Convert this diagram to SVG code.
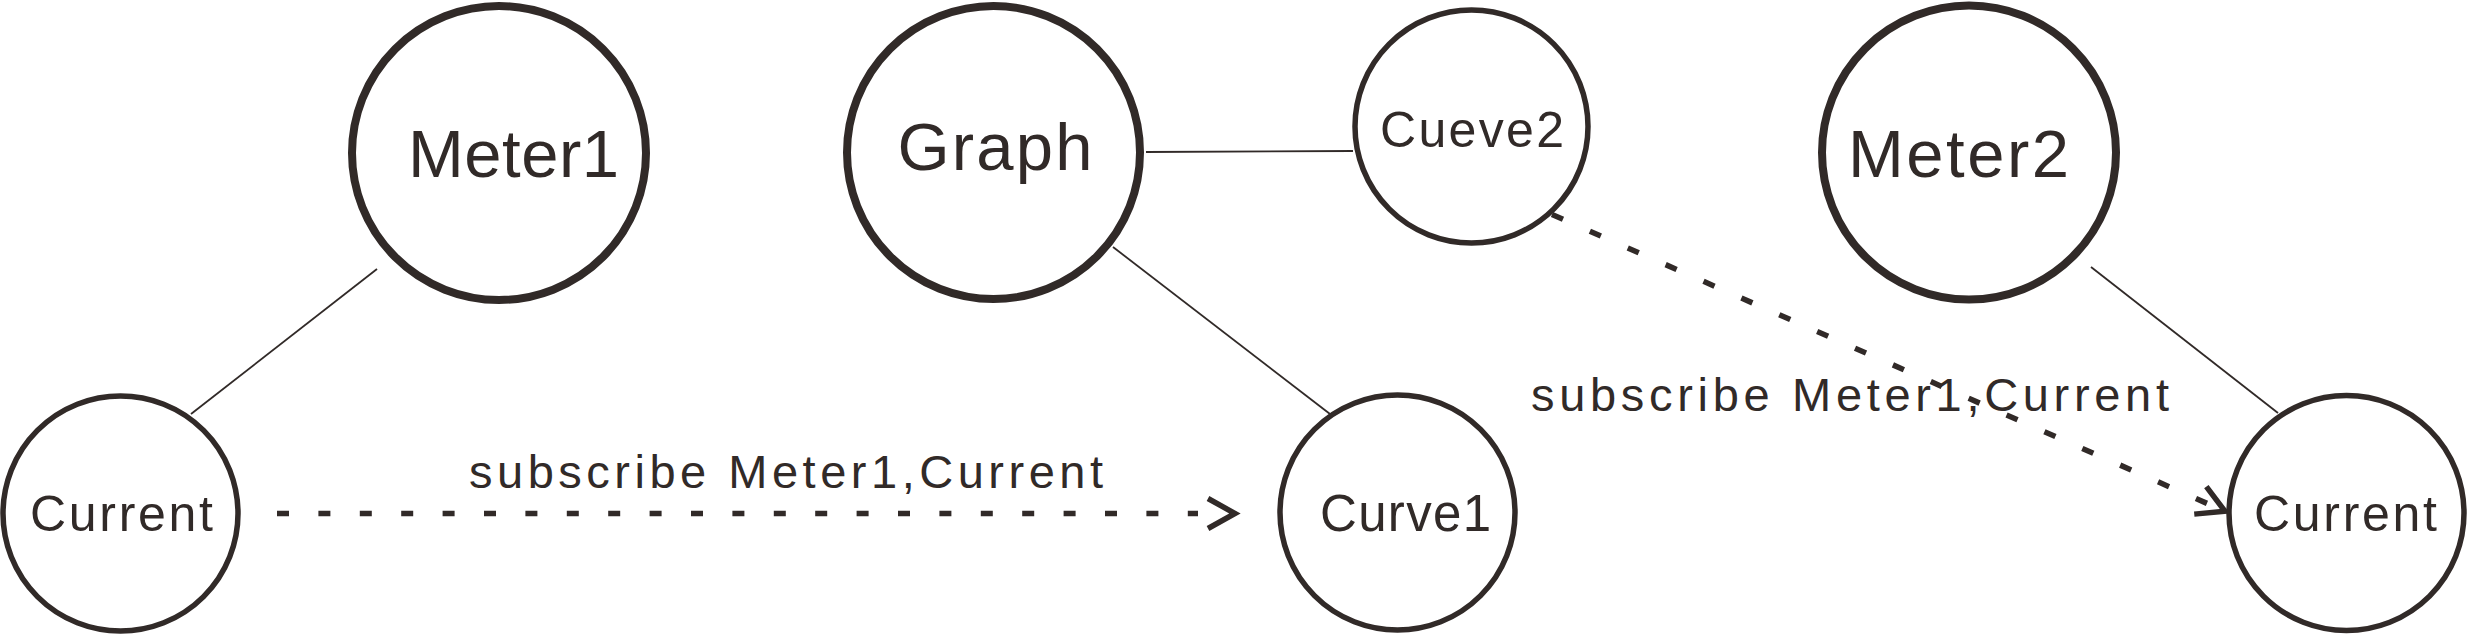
<svg xmlns="http://www.w3.org/2000/svg" xmlns:xlink="http://www.w3.org/1999/xlink" width="2467" height="635" viewBox="0 0 2467 635">
<style>
.big{fill:none;stroke:#312a28;stroke-width:8}
.small{fill:none;stroke:#312a28;stroke-width:5.5}
.lbl{font-family:"Liberation Sans Narrow","Liberation Sans",Arial,sans-serif;fill:#312a28;text-anchor:middle}
.edge{stroke:#312a28;stroke-width:1.8;fill:none}
.dash{stroke:#312a28;stroke-width:5.5;fill:none;stroke-dasharray:12 29.4}
.head{stroke:#312a28;stroke-width:5.5;fill:none;stroke-linejoin:miter}
</style>
<defs>
<path id="chev" d="M-27,-15 L0,0 L-27,15"/>
</defs>
<rect width="2467" height="635" fill="#ffffff"/>
<g id="connectors">
<line class="edge" x1="377" y1="269" x2="191" y2="414"/>
<line class="edge" x1="1146" y1="152" x2="1353" y2="151"/>
<line class="edge" x1="1113" y1="247" x2="1330" y2="414"/>
<line class="edge" x1="2091" y1="267" x2="2278" y2="413"/>
<path class="dash" d="M277,513.5 H1198"/>
<use class="head" xlink:href="#chev" transform="translate(1235,513.5)"/>
<path class="dash" d="M1552,214.5 L2207,503.4"/>
<use class="head" xlink:href="#chev" transform="translate(2225,511.3) rotate(23.8)"/>
<text class="lbl" x="786" y="488" font-size="47" textLength="634" lengthAdjust="spacing">subscribe  Meter1,Current</text>
<text class="lbl" x="1850" y="411" font-size="47" textLength="638" lengthAdjust="spacing">subscribe  Meter1,Current</text>
</g>
<g id="meter1">
<circle class="big" cx="499" cy="153" r="147"/>
<text class="lbl" x="513.5" y="177" font-size="67" textLength="211" lengthAdjust="spacing">Meter1</text>
</g>
<g id="current1">
<circle class="small" cx="120.5" cy="513.5" r="117.5"/>
<text class="lbl" x="121.5" y="531" font-size="50" textLength="183" lengthAdjust="spacing">Current</text>
</g>
<g id="graph">
<circle class="big" cx="993.5" cy="152.5" r="146.5"/>
<text class="lbl" x="995" y="170" font-size="67" textLength="195" lengthAdjust="spacing">Graph</text>
</g>
<g id="cueve2">
<circle class="small" cx="1471.5" cy="126.5" r="116.5"/>
<text class="lbl" x="1472" y="147" font-size="50" textLength="184" lengthAdjust="spacing">Cueve2</text>
</g>
<g id="curve1">
<circle class="small" cx="1397.5" cy="512.5" r="117.5"/>
<text class="lbl" x="1405.5" y="531" font-size="51" textLength="171" lengthAdjust="spacing">Curve1</text>
</g>
<g id="meter2">
<circle class="big" cx="1969" cy="152.5" r="147"/>
<text class="lbl" x="1958.5" y="177" font-size="67" textLength="221" lengthAdjust="spacing">Meter2</text>
</g>
<g id="current2">
<circle class="small" cx="2346.5" cy="513" r="117.5"/>
<text class="lbl" x="2345.5" y="531" font-size="50" textLength="183" lengthAdjust="spacing">Current</text>
</g>
</svg>
